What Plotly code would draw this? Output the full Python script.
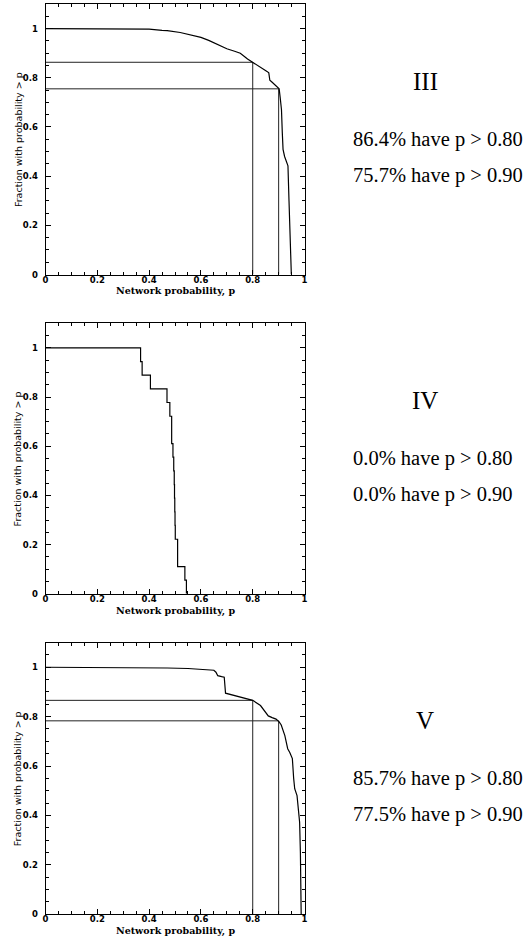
import plotly.graph_objects as go

# ---------------- data ----------------
# Panel III : cumulative fraction with probability > p
p_III = [0.0, 0.38, 0.40, 0.45, 0.47, 0.52, 0.56, 0.60, 0.63, 0.66, 0.675, 0.70, 0.73, 0.752,
         0.78, 0.80, 0.82, 0.841, 0.855, 0.862, 0.866, 0.875, 0.888, 0.896, 0.902, 0.906,
         0.911, 0.914, 0.917, 0.923, 0.930, 0.936, 0.940, 0.943, 0.946, 0.949]
f_III = [1.0, 1.0, 0.998, 0.993, 0.992, 0.984, 0.975, 0.964, 0.952, 0.937, 0.931, 0.918, 0.908, 0.900,
         0.876, 0.863, 0.852, 0.836, 0.826, 0.82, 0.79, 0.782, 0.770, 0.762, 0.755, 0.72,
         0.67, 0.58, 0.509, 0.48, 0.456, 0.442, 0.30, 0.172, 0.06, 0.0]

# Panel IV : step function (18 networks)
p_IV = [0.0, 0.367, 0.373, 0.405, 0.469, 0.480, 0.487, 0.492, 0.495, 0.497, 0.498, 0.499,
        0.500, 0.501, 0.510, 0.538, 0.544]
f_IV = [1.0, 0.944, 0.889, 0.833, 0.778, 0.722, 0.611, 0.556, 0.500, 0.444, 0.389, 0.333,
        0.278, 0.222, 0.111, 0.056, 0.0]

# Panel V
p_V = [0.0, 0.40, 0.47, 0.55, 0.60, 0.65, 0.658, 0.665, 0.68, 0.690, 0.695, 0.71, 0.75, 0.78,
       0.80, 0.83, 0.85, 0.86, 0.875, 0.89, 0.902, 0.91, 0.924, 0.935, 0.943, 0.953, 0.958,
       0.962, 0.971, 0.977, 0.981, 0.984, 0.987]
f_V = [1.0, 1.0, 0.997, 0.995, 0.992, 0.988, 0.98, 0.966, 0.962, 0.960, 0.895, 0.891, 0.881, 0.872,
       0.866, 0.845, 0.82, 0.803, 0.796, 0.79, 0.779, 0.766, 0.723, 0.67, 0.655, 0.63, 0.55,
       0.508, 0.48, 0.40, 0.372, 0.25, 0.0]

thresholds = [0.8, 0.9]
frac_III = [0.863, 0.755]
frac_V = [0.866, 0.783]

panel_labels = ["III", "IV", "V"]
panel_text = [["86.4% have p > 0.80", "75.7% have p > 0.90"],
              ["0.0% have p > 0.80", "0.0% have p > 0.90"],
              ["85.7% have p > 0.80", "77.5% have p > 0.90"]]

x_ticks = [0, 0.2, 0.4, 0.6, 0.8, 1]
x_tick_text = ["0", "0.2", "0.4", "0.6", "0.8", "1"]
y_ticks = [0, 0.2, 0.4, 0.6, 0.8, 1]
y_tick_text = ["0", "0.2", "0.4", "0.6", "0.8", "1"]

x_title = "Network probability, p"
y_title = "Fraction with probability > p"

# ---------------- layout ----------------
W, H = 529, 943
x_dom = [43 / W, 305 / W]
panels_px = [(4, 276), (325, 597), (646, 919)]
y_doms = [[1 - b / H, 1 - t / H] for (t, b) in panels_px]

fig = go.Figure()

curves = [(p_III, f_III, "linear"), (p_IV, f_IV, "hv"), (p_V, f_V, "linear")]
guides = [frac_III, None, frac_V]

tick_font = dict(family="DejaVu Sans", size=8.5, color="black", weight="bold")

for i in range(3):
    xa = "x" if i == 0 else f"x{i+1}"
    ya = "y" if i == 0 else f"y{i+1}"
    px, fy, shape = curves[i]
    if guides[i] is not None:
        for t, f in zip(thresholds, guides[i]):
            fig.add_trace(go.Scatter(x=[0, t, t], y=[f, f, 0], mode="lines",
                                     line=dict(color="#222", width=1),
                                     xaxis=xa, yaxis=ya, showlegend=False, hoverinfo="skip"))
    fig.add_trace(go.Scatter(x=px, y=fy, mode="lines", line=dict(color="black", width=1.2, shape=shape),
                             xaxis=xa, yaxis=ya, showlegend=False))

    axis_common = dict(showgrid=False, zeroline=False, showline=True, linecolor="black", linewidth=1,
                       mirror="allticks", ticks="inside", ticklen=5, tickwidth=1, tickcolor="black",
                       tickfont=tick_font,
                       minor=dict(ticks="inside", ticklen=3, dtick=0.05, tickcolor="black", tickwidth=1,
                                  showgrid=False))
    xkey = "xaxis" if i == 0 else f"xaxis{i+1}"
    ykey = "yaxis" if i == 0 else f"yaxis{i+1}"
    fig.update_layout(**{
        xkey: dict(domain=x_dom, range=[0, 1], anchor=ya, tickmode="array", tickvals=x_ticks,
                   ticktext=x_tick_text, ticklabelstandoff=-3, **axis_common),
        ykey: dict(domain=y_doms[i], range=[0, 1.1], anchor=xa, tickmode="array", tickvals=y_ticks,
                   ticktext=y_tick_text, ticklabelstandoff=5, **axis_common),
    })

    t, b = panels_px[i]
    cy = (t + b) / 2
    # axis titles
    fig.add_annotation(text=x_title, xref="paper", yref="paper", x=(43 + 305) / 2 / W,
                       y=1 - (b + 17) / H, xanchor="center", yanchor="middle", showarrow=False,
                       font=dict(family="DejaVu Serif", size=9.5, color="black", weight="bold"))
    fig.add_annotation(text=y_title, xref="paper", yref="paper", x=15 / W, y=1 - cy / H,
                       xanchor="center", yanchor="middle", textangle=-90, showarrow=False,
                       font=dict(family="DejaVu Sans", size=9.5, color="black"))
    # right-hand text
    fig.add_annotation(text=panel_labels[i], xref="paper", yref="paper", x=427 / W,
                       y=1 - (cy - 58) / H, xanchor="center", yanchor="middle", showarrow=False,
                       font=dict(family="Liberation Serif", size=25, color="black"))
    for j, line in enumerate(panel_text[i]):
        fig.add_annotation(text=line, xref="paper", yref="paper", x=352 / W,
                           y=1 - (cy + j * 36) / H, xanchor="left", yanchor="middle",
                           showarrow=False, font=dict(family="Liberation Serif", size=20.5, color="black"))

fig.update_layout(width=W, height=H, margin=dict(l=0, r=0, t=0, b=0),
                  paper_bgcolor="white", plot_bgcolor="white", hovermode=False)

fig.write_html("out.html", config={"displayModeBar": False},
               post_script="document.body.style.margin='0';document.body.style.overflow='hidden';")
